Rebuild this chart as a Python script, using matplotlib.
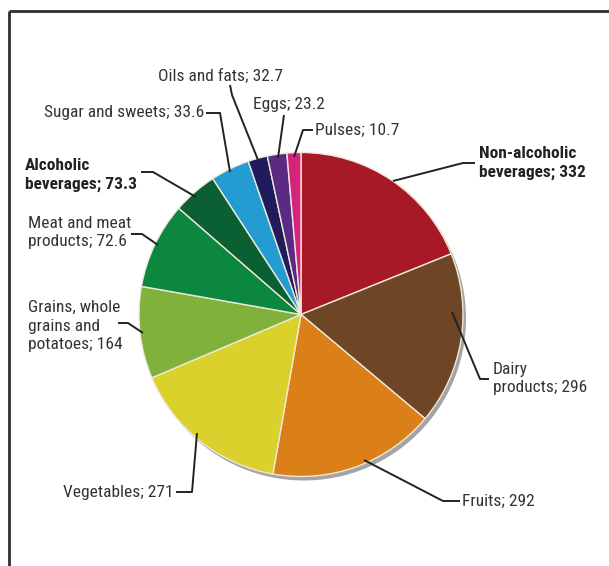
import matplotlib
matplotlib.use("Agg")
import matplotlib.pyplot as plt
from matplotlib import font_manager as fm
from matplotlib.patches import Circle

# ---------------- data ----------------
categories = ["Non-alcoholic\nbeverages", "Dairy\nproducts", "Fruits", "Vegetables",
              "Grains, whole\ngrains and\npotatoes", "Meat and meat\nproducts",
              "Alcoholic\nbeverages", "Sugar and sweets", "Oils and fats", "Eggs", "Pulses"]
values = [332, 296, 292, 271, 164, 72.6, 73.3, 33.6, 32.7, 23.2, 10.7]
value_labels = ["332", "296", "292", "271", "164", "72.6", "73.3", "33.6", "32.7", "23.2", "10.7"]
# wedge arcs (degrees) as drawn in the picture
wedge_sizes = [68, 62, 60, 57, 33, 31, 16, 14, 7, 7, 5]
bold = [True, False, False, False, False, False, True, False, False, False, False]
colors = ["#A81927", "#6E4625", "#DB8018", "#DBD12C", "#80B13A", "#0B873F",
          "#0A5F33", "#239CD1", "#201C5B", "#5B2A83", "#D5237B"]

# ---------------- layout (image pixel coords, y downward) ----------------
W, H = 609, 566
cx, cy, R = 301, 314.5, 162
label_pos = [(479, 163, "left"), (493, 378.5, "left"), (462, 501, "left"), (174, 492, "right"),
             (28, 326, "left"), (28, 232.5, "left"), (25, 175, "left"), (204, 113, "right"),
             (158, 76, "left"), (253, 105, "left"), (315, 130, "left")]
leaders = [
    [(475, 163), (463, 163), (393, 181)],
    [(489, 379), (480, 379), (452, 312)],
    [(460, 501), (443, 501), (364, 460)],
    [(176, 492), (192, 492), (197, 433)],
    [(118, 323), (128, 323), (143, 333)],
    [(131, 234), (142, 234), (158, 245)],
    [(141, 172), (153, 172), (196, 197)],
    [(206, 113), (220, 113), (230, 172)],
    [(230, 85), (232, 95), (258, 160)],
    [(284, 115), (278, 158)],
    [(313, 130), (303, 130), (294, 157)],
]

# ---------------- fonts ----------------
fam = "DejaVu Sans"
for cand in ["Liberation Sans Narrow", "Roboto Condensed", "Liberation Sans"]:
    try:
        fm.findfont(fm.FontProperties(family=cand), fallback_to_default=False)
        fam = cand
        break
    except Exception:
        pass
plt.rcParams["font.family"] = [fam, "DejaVu Sans"]

fig = plt.figure(figsize=(W / 100, H / 100), dpi=100)
ax = fig.add_axes([0, 0, 1, 1])

def Y(y):
    return H - y

# shadow
ax.add_patch(Circle((cx + 3, Y(cy) - 4), R, facecolor="#A4A4A4", edgecolor="none", zorder=1))

wedges, _ = ax.pie(wedge_sizes, colors=colors, startangle=90, counterclock=False,
                   center=(cx, Y(cy)), radius=R,
                   wedgeprops=dict(edgecolor="#EFE8DA", linewidth=1.0, zorder=2))
for w in wedges:
    w.set_zorder(2)

txt_color = "#333333"
for cat, vl, b, (lx, ly, ha), pts in zip(categories, value_labels, bold, label_pos, leaders):
    ax.text(lx, Y(ly), f"{cat}; {vl}", ha=ha, va="center", fontsize=12.5,
            fontweight="bold" if b else "normal", color="#222222" if b else txt_color,
            linespacing=1.32, zorder=5)
    xs = [p[0] for p in pts]
    ys = [Y(p[1]) for p in pts]
    ax.plot(xs, ys, color="#222222", lw=1.4, solid_capstyle="butt", zorder=4)

# frame (top and left)
ax.plot([9, W], [Y(11), Y(11)], color="#2E2E2E", lw=2.0, zorder=6, solid_capstyle="butt")
ax.plot([9, 9], [Y(11), 0], color="#2E2E2E", lw=2.0, zorder=6, solid_capstyle="butt")

ax.set_xlim(0, W)
ax.set_ylim(0, H)
ax.set_aspect("equal", adjustable="box")
ax.axis("off")
fig.savefig("out.png", dpi=100)
